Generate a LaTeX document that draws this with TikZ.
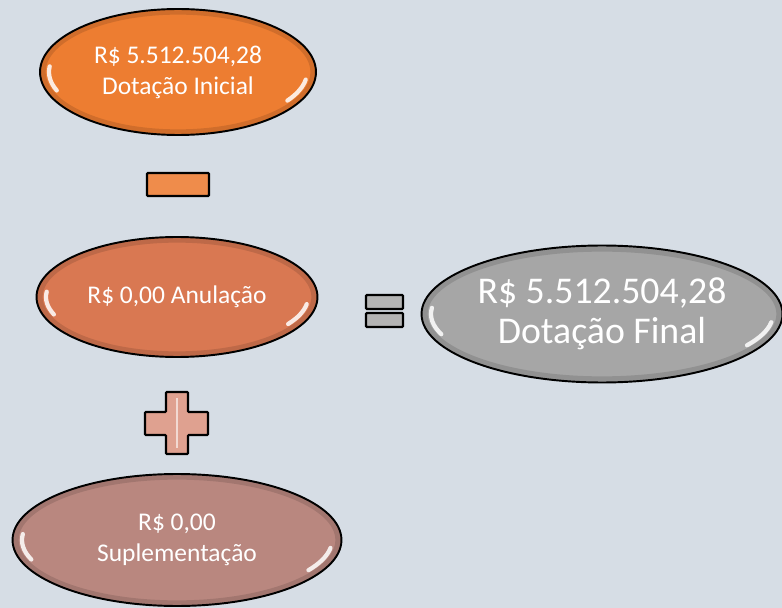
\documentclass[tikz,border=0pt]{standalone}
\usepackage{fontspec}
\setmainfont{Carlito}
\usetikzlibrary{shapes.geometric}
\usetikzlibrary{positioning}

\definecolor{bgblue}{HTML}{D6DDE5}
\definecolor{inicialorange}{HTML}{ED7D31}
\definecolor{anulorange}{HTML}{D97852}
\definecolor{suplrose}{HTML}{B9877F}
\definecolor{finalgray}{HTML}{A6A6A6}
\definecolor{minusorange}{HTML}{EF8C4B}
\definecolor{pluspink}{HTML}{DFA190}
\definecolor{equalgray}{HTML}{B4B4B4}

\tikzset{
  pill/.style={ellipse,draw=black,line width=1.1pt,text=white,align=center,inner sep=0pt},
  opbar/.style={rectangle,draw=black,line width=1.3pt,inner sep=0pt,rounded corners=0.5pt},
  gloss/.style={white,line width=2.4pt,line cap=round,opacity=0.85},
  rim/.style={black,line width=3pt,opacity=0.12}
}

\begin{document}
\begin{tikzpicture}[x=0.02cm,y=-0.02cm]
      \fill[bgblue] (0,0) rectangle (782,608);
      \useasboundingbox (0,0) rectangle (782,608);
      % the three terms
      \node[pill,fill=inicialorange,minimum width=5.52cm,minimum height=2.52cm,
            font=\fontsize{14.5}{17.6}\selectfont] (inicial) at (178,72) {R\$ 5.512.504,28\\Dotação Inicial};
      \node[pill,fill=anulorange,minimum width=5.62cm,minimum height=2.4cm,
            font=\fontsize{14.5}{17.6}\selectfont] (anulacao) at (177,297) {R\$ 0,00 Anulação};
      \node[pill,fill=suplrose,minimum width=6.58cm,minimum height=2.64cm,
            font=\fontsize{14.5}{17.6}\selectfont] (suplem) at (177,540) {R\$ 0,00\\Suplementação};
      % result
      \node[pill,fill=finalgray,minimum width=7.22cm,minimum height=2.74cm,
            font=\fontsize{21.5}{22.7}\selectfont] (final) at (602,314) {R\$ 5.512.504,28\\Dotação Final};
      % operators
      \node[opbar,fill=minusorange,minimum width=1.24cm,minimum height=0.46cm] (menos) at (178,184.5) {};
      \node[opbar,fill=equalgray,minimum width=0.74cm,minimum height=0.28cm] (igual1) at (384.5,302) {};
      \node[opbar,fill=equalgray,minimum width=0.74cm,minimum height=0.28cm] (igual2) at (384.5,320) {};
      \draw[fill=pluspink,line width=1.3pt,rounded corners=0.5pt]
        (166,392) -- (188,392) -- (188,412) -- (208,412) -- (208,435) -- (188,435)
        -- (188,454) -- (166,454) -- (166,435) -- (145,435) -- (145,412) -- (166,412) -- cycle;
      \draw[white,opacity=0.6,line width=1pt] (177,398) -- (177,448);
      % rim shading and glossy highlights
      \foreach \n/\cx/\cy/\rx/\ry in {inicial/178/72/138/63,anulacao/177/297/140/60,suplem/177/540/164/66,final/602/314/180/68}{
        \draw[rim] (\cx,\cy) ellipse[x radius={\rx-3},y radius={\ry-3}];
        \draw[gloss] (\cx,\cy) ++(160:{\rx-9} and {\ry-9}) arc[start angle=160,end angle=186,x radius={\rx-9},y radius={\ry-9}];
        \draw[gloss] (\cx,\cy) ++(8:{\rx-9} and {\ry-9}) arc[start angle=8,end angle=32,x radius={\rx-9},y radius={\ry-9}];
      }
\end{tikzpicture}
\end{document}
